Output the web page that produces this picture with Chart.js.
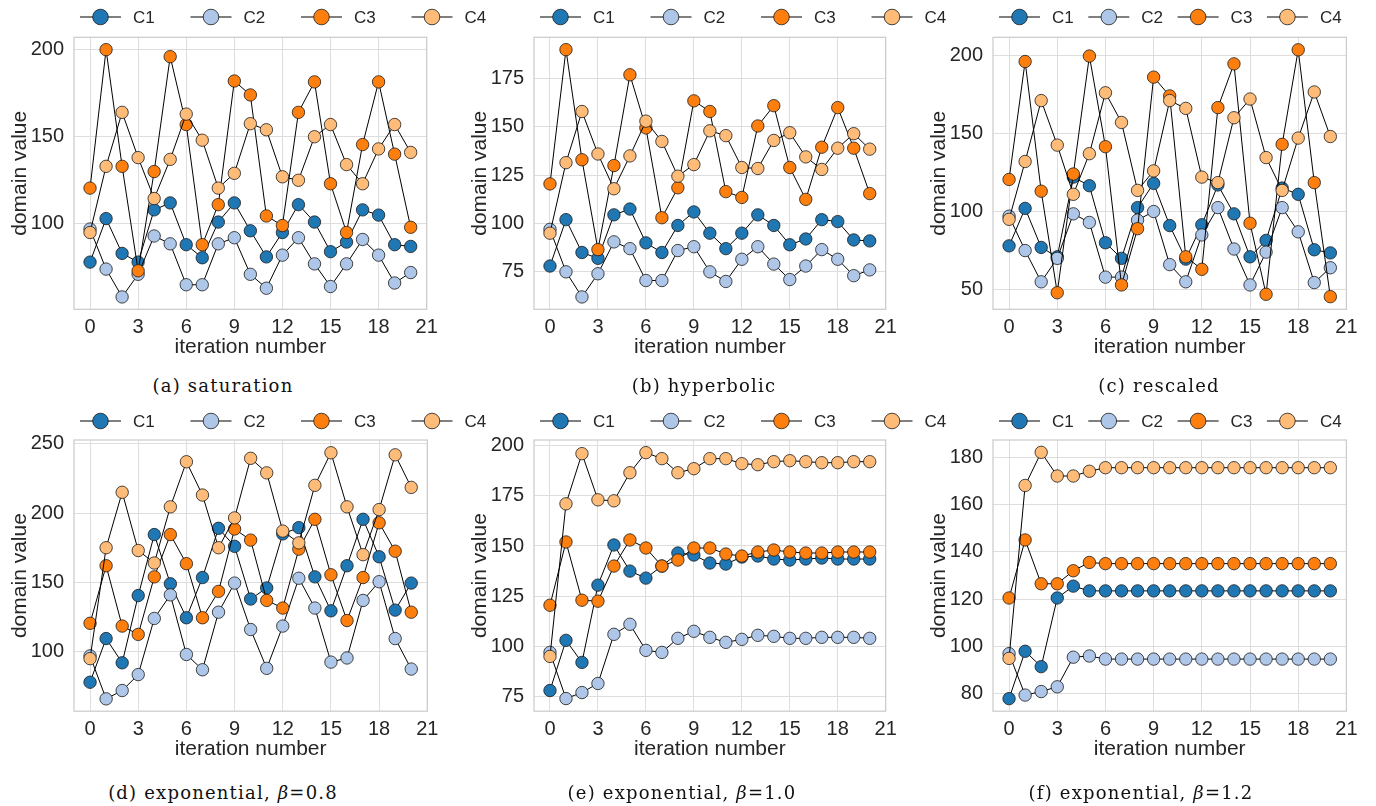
<!DOCTYPE html>
<html>
<head>
<meta charset="utf-8">
<script src="https://cdn.jsdelivr.net/npm/chart.js@4.4.1/dist/chart.umd.min.js"></script>
<style>
  body { margin: 0; background: #fff; width: 1376px; height: 806px; position: relative; overflow: hidden; }
  canvas { position: absolute; }
  .cap { position: absolute; font-family: 'DejaVu Serif', serif; font-size: 18px; letter-spacing: 1.2px; color: #111; transform: translateX(-50%); white-space: nowrap; }
</style>
</head>
<body>
<canvas id="pa" width="500" height="372" style="left:0px;top:0px"></canvas>
<canvas id="pb" width="500" height="372" style="left:460px;top:0px"></canvas>
<canvas id="pc" width="457" height="372" style="left:919px;top:0px"></canvas>
<canvas id="pd" width="500" height="372" style="left:0px;top:404px"></canvas>
<canvas id="pe" width="500" height="372" style="left:460px;top:404px"></canvas>
<canvas id="pf" width="457" height="372" style="left:919px;top:404px"></canvas>

<div class="cap" style="left:223px;top:375px">(a) saturation</div>
<div class="cap" style="left:704px;top:375px">(b) hyperbolic</div>
<div class="cap" style="left:1159px;top:375px">(c) rescaled</div>
<div class="cap" style="left:223px;top:782px">(d) exponential, <i>β</i>=0.8</div>
<div class="cap" style="left:682px;top:782px">(e) exponential, <i>β</i>=1.0</div>
<div class="cap" style="left:1141px;top:782px">(f) exponential, <i>β</i>=1.2</div>

<script>
const seriesNames = ['C1', 'C2', 'C3', 'C4'];
const seriesColors = ['#1f77b4', '#aec7e8', '#ff7f0e', '#ffbb78'];
const iterations = [0, 1, 2, 3, 4, 5, 6, 7, 8, 9, 10, 11, 12, 13, 14, 15, 16, 17, 18, 19, 20];
const xTicks = [0, 3, 6, 9, 12, 15, 18, 21];

// (a) saturation
const satC1 = [78, 103, 83, 78, 108, 112, 88, 80.5, 101, 112, 96, 81, 95, 111, 101, 84, 89.5, 108, 105, 88, 87];
const satC2 = [97, 74, 58, 71, 93, 88.5, 65, 65, 88.5, 92, 71, 63, 82, 92, 77, 64, 77, 91, 82, 66, 72];
const satC3 = [120.5, 200, 133, 73, 130, 196, 157, 88, 111, 182, 174, 104.5, 99, 164, 181.5, 123, 95, 145.5, 181.5, 140, 98];
const satC4 = [95, 133, 164, 138, 114.5, 137, 163, 148, 120.5, 129, 157.5, 154, 127, 125, 150, 157, 134, 123, 143, 157, 141];

// (b) hyperbolic
const hypC1 = [78, 102, 85, 82, 104.5, 107.5, 90, 85, 99, 106, 95, 87, 95, 104.5, 99, 89, 92, 102, 101, 91.5, 91];
const hypC2 = [97, 75, 62, 74, 90.5, 87, 70.5, 70.5, 86, 88, 75, 70, 81.5, 88, 79, 71, 78, 86.5, 81.5, 73, 76];
const hypC3 = [120.5, 190, 133, 86.5, 130, 177, 149.5, 103, 118.5, 163.5, 158, 116.5, 113.5, 150.5, 161, 129, 112.5, 139.5, 160, 139, 115.5];
const hypC4 = [95, 131.5, 158, 136, 118, 135, 153, 142.5, 124.5, 130.5, 148, 145.5, 129, 128.5, 143, 147, 134.5, 128, 139, 146.5, 138.5];

// (c) rescaled
const resC1 = [78, 102, 77, 71, 122, 116.5, 80, 70, 102.5, 118, 91, 69.5, 91.5, 117, 98.5, 71, 81.5, 115, 111, 75.5, 73.5];
const resC2 = [97, 75, 55, 70, 98.5, 93, 58, 58, 94.5, 100, 66, 55, 85, 102.5, 76, 53, 74, 102.5, 87, 54.5, 64];
const resC3 = [120.5, 196, 113, 48, 124, 199.5, 141.5, 53, 89, 186, 174, 71, 63, 166.5, 194.5, 92.5, 47, 143, 203.5, 118.5, 45.5];
const resC4 = [95, 132, 171, 142.5, 111, 137, 176, 157, 113.5, 126, 171, 166, 122, 118.5, 160, 172, 134.5, 113.5, 147, 176.5, 148];

// (d) exponential, beta = 0.8
const e08C1 = [78, 109.5, 92, 140.5, 184.5, 149, 124.5, 153.5, 189, 176, 138, 146, 185, 189.5, 154, 129.5, 162, 195.5, 168.5, 130, 149.5];
const e08C2 = [97, 66, 72, 83.5, 124, 141, 98, 87, 128.5, 149.5, 116, 88, 118.5, 153, 131.5, 92.5, 95.5, 137, 150.5, 109.5, 87.5];
const e08C3 = [120.5, 162, 118.5, 112.5, 154, 184.5, 163.5, 124.5, 143.5, 188.5, 180.5, 137, 131.5, 174, 195.5, 155.5, 122.5, 153.5, 193, 172.5, 128.5];
const e08C4 = [95, 175, 215, 173, 164, 204.5, 237, 213, 175, 196.5, 239.5, 229, 187, 178.5, 220, 243.5, 204.5, 170, 202.5, 242, 218.5];

// (e) exponential, beta = 1.0
const e10C1 = [78, 103, 92, 130.5, 150.5, 137.5, 134, 140, 146.5, 145.5, 141.5, 141, 144.5, 145, 143.5, 143, 143.5, 144, 143.5, 143.5, 143.5];
const e10C2 = [97, 74, 77, 81.5, 106, 111, 98, 97, 104, 107.5, 104.5, 102, 103.5, 105.5, 105, 104, 104, 104.5, 104.5, 104.5, 104];
const e10C3 = [120.5, 152, 123, 122.5, 140, 153, 149, 140, 143, 149, 149, 146, 145, 147, 148, 147, 146.5, 146.5, 147, 147, 147];
const e10C4 = [95, 171, 196, 173, 172.5, 186.5, 196.5, 193.5, 186.5, 188.5, 193.5, 193.5, 191, 190.5, 192, 192.5, 192, 191.5, 191.5, 192, 192];

// (f) exponential, beta = 1.2
const e12C1 = [78, 98, 91.5, 120.5, 125.5, 123.5, 123.5, 123.5, 123.5, 123.5, 123.5, 123.5, 123.5, 123.5, 123.5, 123.5, 123.5, 123.5, 123.5, 123.5, 123.5];
const e12C2 = [97, 79.5, 81, 83, 95.5, 96, 94.7, 94.7, 94.7, 94.7, 94.7, 94.7, 94.7, 94.7, 94.7, 94.7, 94.7, 94.7, 94.7, 94.7, 94.7];
const e12C3 = [120.5, 145, 126.5, 126.5, 132, 135.5, 135, 135, 135, 135, 135, 135, 135, 135, 135, 135, 135, 135, 135, 135, 135];
const e12C4 = [95, 168, 182, 172, 172, 174, 175.5, 175.5, 175.5, 175.5, 175.5, 175.5, 175.5, 175.5, 175.5, 175.5, 175.5, 175.5, 175.5, 175.5, 175.5];

const yTicksA = [100, 150, 200];
const yTicksB = [75, 100, 125, 150, 175];
const yTicksC = [50, 100, 150, 200];
const yTicksD = [100, 150, 200, 250];
const yTicksE = [75, 100, 125, 150, 175, 200];
const yTicksF = [80, 100, 120, 140, 160, 180];

const FONT = '"Liberation Sans", Arial, sans-serif';
const TEXT = '#262626';
Chart.defaults.font.family = FONT;

// box round the plot area, like the seaborn axes frame
const frameBox = {
    id: 'frameBox',
    beforeDatasetsDraw(chart) {
        const { ctx, chartArea: a } = chart;
        ctx.save();
        ctx.strokeStyle = '#cccccc';
        ctx.lineWidth = 1.25;
        ctx.strokeRect(a.left, a.top, a.right - a.left, a.bottom - a.top);
        ctx.restore();
    }
};

// matplotlib-style legend: line with marker, in one row above the axes
const rowLegend = {
    id: 'rowLegend',
    afterDraw(chart, args, opts) {
        const ctx = chart.ctx;
        const y = 17;
        const pitch = opts.pitch || 110.5;
        let x = chart.chartArea.left + 6;
        ctx.save();
        ctx.font = '17px ' + FONT;
        ctx.textBaseline = 'middle';
        chart.data.datasets.forEach(ds => {
            ctx.strokeStyle = '#000';
            ctx.lineWidth = 1;
            ctx.beginPath();
            ctx.moveTo(x, y);
            ctx.lineTo(x + 41, y);
            ctx.stroke();
            ctx.beginPath();
            ctx.arc(x + 20.5, y, 7.8, 0, Math.PI * 2);
            ctx.fillStyle = ds.pointBackgroundColor;
            ctx.fill();
            ctx.strokeStyle = '#1a1a1a';
            ctx.lineWidth = 0.8;
            ctx.stroke();
            ctx.fillStyle = TEXT;
            ctx.fillText(ds.label, x + 53, y + 1);
            x += pitch;
        });
        ctx.restore();
    }
};

function makePanel(id, series, yMin, yMax, yTicks, pad, pitch) {
    const ctx = document.getElementById(id).getContext('2d');
    return new Chart(ctx, {
        type: 'line',
        data: {
            datasets: series.map((vals, k) => ({
                label: seriesNames[k],
                data: vals.map((v, i) => ({ x: iterations[i], y: v })),
                borderColor: '#000',
                borderWidth: 1,
                pointRadius: 6.2,
                pointBackgroundColor: seriesColors[k],
                pointBorderColor: '#1a1a1a',
                pointBorderWidth: 0.8,
                tension: 0,
                order: 4 - k, // later series on top
            })),
        },
        options: {
            responsive: false,
            animation: false,
            events: [],
            layout: { padding: pad },
            plugins: { legend: { display: false }, tooltip: { enabled: false }, rowLegend: { pitch } },
            scales: {
                x: {
                    type: 'linear',
                    min: -1,
                    max: 21,
                    afterBuildTicks: s => { s.ticks = xTicks.map(v => ({ value: v })); },
                    afterFit: s => { s.height = 54.5; },
                    grid: { color: '#dedede', drawTicks: false },
                    border: { display: false },
                    ticks: { font: { size: 20 }, color: TEXT, padding: 6, maxRotation: 0 },
                    title: { display: true, text: 'iteration number', font: { size: 21 }, color: TEXT, padding: { top: 0, bottom: 4 } },
                },
                y: {
                    min: yMin,
                    max: yMax,
                    afterBuildTicks: s => { s.ticks = yTicks.map(v => ({ value: v })); },
                    afterFit: s => { s.width = 70.5; },
                    grid: { color: '#dedede', drawTicks: false },
                    border: { display: false },
                    ticks: { font: { size: 20 }, color: TEXT, padding: 10 },
                    title: { display: true, text: 'domain value', font: { size: 21 }, color: TEXT, padding: { top: 4, bottom: 0 } },
                },
            },
        },
        plugins: [frameBox, rowLegend],
    });
}

const topPad = r => ({ top: 37.3, bottom: 8.2, left: 3.5, right: r });
const botPad = r => ({ top: 36, bottom: 10.3, left: 3.5, right: r });

// canvases are wider than the axes so the legend row can run past the right edge
makePanel('pa', [satC1, satC2, satC3, satC4], 50.9, 207.1, yTicksA, topPad(73.3), 110.5);
makePanel('pb', [hypC1, hypC2, hypC3, hypC4], 55.6, 196.4, yTicksB, topPad(74.3), 110.5);
makePanel('pc', [resC1, resC2, resC3, resC4], 37.4, 211.5, yTicksC, topPad(29.6), 89.3);
makePanel('pd', [e08C1, e08C2, e08C3, e08C4], 57.1, 252.7, yTicksD, botPad(72.7), 110.5);
makePanel('pe', [e10C1, e10C2, e10C3, e10C4], 67.7, 202.8, yTicksE, botPad(74.3), 110.5);
makePanel('pf', [e12C1, e12C2, e12C3, e12C4], 72.7, 187.2, yTicksF, botPad(29.6), 89.3);
</script>
</body>
</html>
